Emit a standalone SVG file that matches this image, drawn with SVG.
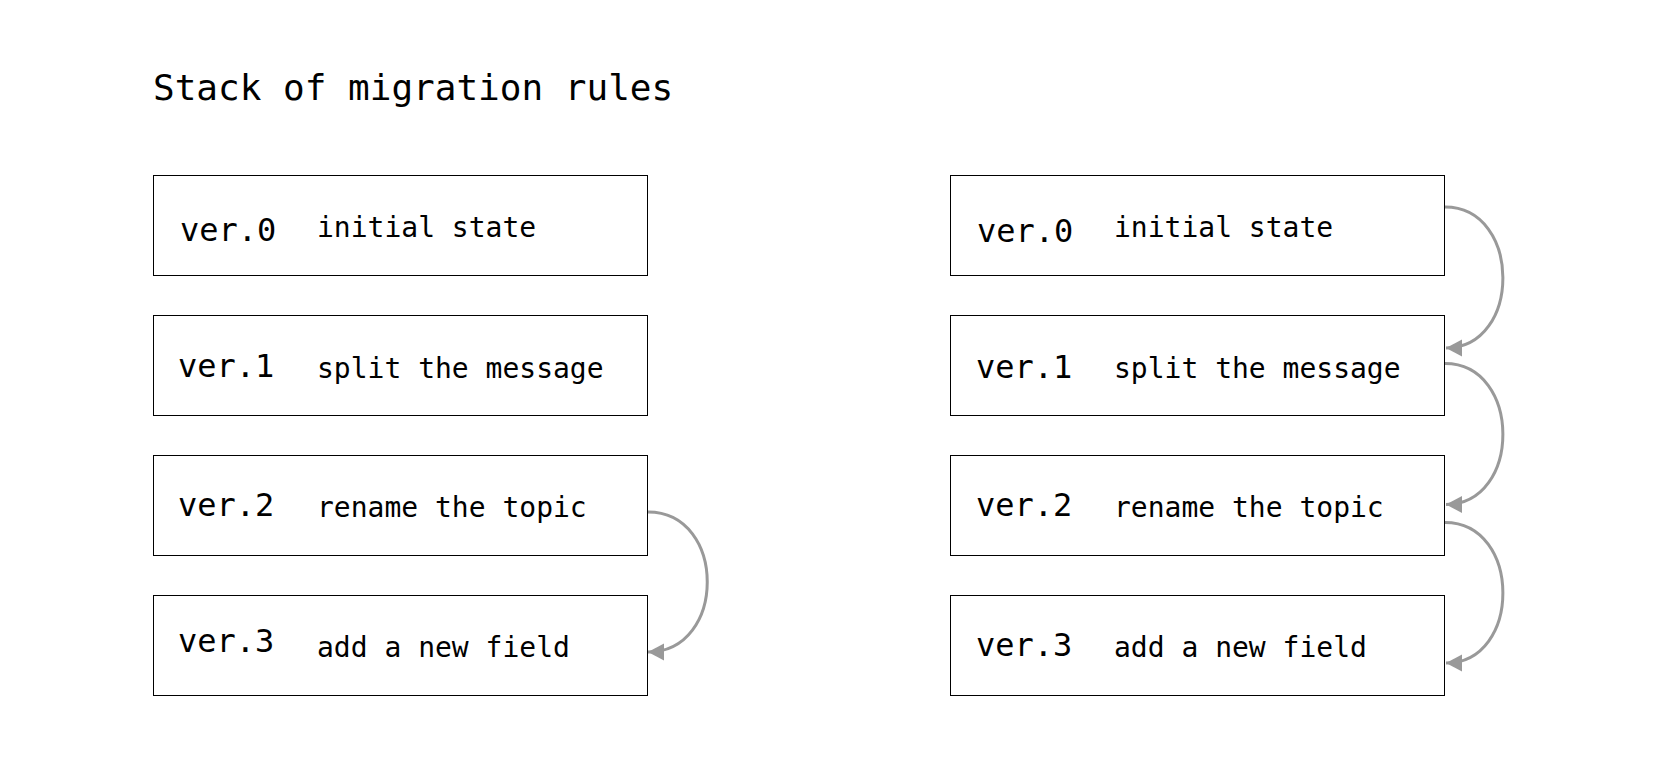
<svg xmlns="http://www.w3.org/2000/svg" width="1670" height="757" viewBox="0 0 1670 757">
  <style>
    .box { fill: #ffffff; stroke: #000000; stroke-width: 1; }
    .title { font-family: "DejaVu Sans Mono", "Liberation Mono", monospace; font-size: 36px; fill: #000000; }
    .ver { font-family: "DejaVu Sans Mono", "Liberation Mono", monospace; font-size: 32px; fill: #000000; }
    .desc { font-family: "DejaVu Sans Mono", "Liberation Mono", monospace; font-size: 28px; fill: #000000; }
    .conn { fill: none; stroke: #999999; stroke-width: 3; marker-end: url(#arrow); }
  </style>
  <defs>
    <marker id="arrow" markerUnits="userSpaceOnUse" markerWidth="18" markerHeight="18" viewBox="0 0 18 18" refX="16" refY="9" orient="auto">
      <path d="M0,0.5 L16,9 L0,17.5 Z" fill="#999999"/>
    </marker>
  </defs>
  <rect width="1670" height="757" fill="#ffffff"/>

  <g id="title">
    <text class="title" x="153" y="100">Stack of migration rules</text>
  </g>

  <!-- Left stack -->
  <g id="left-ver0">
    <rect class="box" x="153.5" y="175.5" width="494" height="100"/>
    <text class="ver" x="180" y="241">ver.0</text>
    <text class="desc" x="317" y="237">initial state</text>
  </g>
  <g id="left-ver1">
    <rect class="box" x="153.5" y="315.5" width="494" height="100"/>
    <text class="ver" x="178" y="377">ver.1</text>
    <text class="desc" x="317" y="378">split the message</text>
  </g>
  <g id="left-ver2">
    <rect class="box" x="153.5" y="455.5" width="494" height="100"/>
    <text class="ver" x="178" y="516">ver.2</text>
    <text class="desc" x="317" y="517">rename the topic</text>
  </g>
  <g id="left-ver3">
    <rect class="box" x="153.5" y="595.5" width="494" height="100"/>
    <text class="ver" x="178" y="652">ver.3</text>
    <text class="desc" x="317" y="657">add a new field</text>
  </g>

  <!-- Right stack -->
  <g id="right-ver0">
    <rect class="box" x="950.5" y="175.5" width="494" height="100"/>
    <text class="ver" x="977" y="242">ver.0</text>
    <text class="desc" x="1114" y="237">initial state</text>
  </g>
  <g id="right-ver1">
    <rect class="box" x="950.5" y="315.5" width="494" height="100"/>
    <text class="ver" x="976" y="378">ver.1</text>
    <text class="desc" x="1114" y="378">split the message</text>
  </g>
  <g id="right-ver2">
    <rect class="box" x="950.5" y="455.5" width="494" height="100"/>
    <text class="ver" x="976" y="516">ver.2</text>
    <text class="desc" x="1114" y="517">rename the topic</text>
  </g>
  <g id="right-ver3">
    <rect class="box" x="950.5" y="595.5" width="494" height="100"/>
    <text class="ver" x="976" y="656">ver.3</text>
    <text class="desc" x="1114" y="657">add a new field</text>
  </g>

  <g id="connectors">
    <path class="conn" d="M648,512 C727,512 727,652 648,652"/>
    <path class="conn" d="M1445,207 C1522,207 1522,348 1446,348"/>
    <path class="conn" d="M1445,363.5 C1522,363.5 1522,504.5 1446,504.5"/>
    <path class="conn" d="M1445,522.5 C1522,522.5 1522,663 1446,663"/>
  </g>
</svg>
